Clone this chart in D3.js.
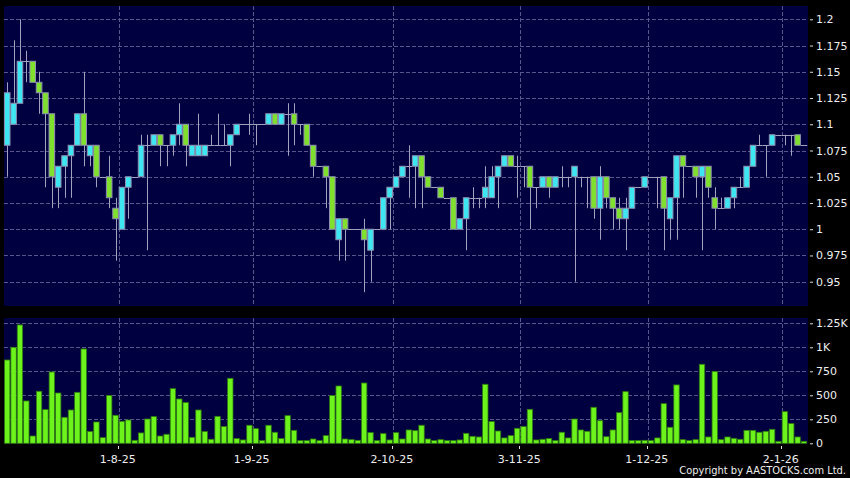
<!DOCTYPE html>
<html>
<head>
<meta charset="utf-8">
<script src="https://cdn.jsdelivr.net/npm/d3@7"></script>
<style>
  html, body { margin: 0; padding: 0; background: #000; }
  svg { display: block; }
  text { font-family: "DejaVu Sans", Verdana, sans-serif; }
  .narrow { font-family: "DejaVu Sans Condensed", "DejaVu Sans", sans-serif; font-stretch: condensed; }
</style>
</head>
<body>
<div id="chart"></div>
<script>
// Daily OHLC, one entry per trading day (8 Jul 2025 .. 7 Jan 2026)
const opens = [1.08,1.10,1.12,1.16,1.16,1.14,1.13,1.11,1.04,1.06,1.07,1.08,1.11,1.07,1.08,1.05,1.05,1.02,1.00,1.04,
  1.05,1.05,1.08,1.08,1.09,1.08,1.08,1.09,1.10,1.07,1.07,1.07,1.08,1.08,1.08,1.08,1.09,1.10,1.10,1.10,
  1.10,1.10,1.11,1.10,1.11,1.11,1.10,1.10,1.08,1.06,1.06,1.05,0.99,1.01,1.00,1.00,1.00,0.98,1.00,1.00,
  1.03,1.04,1.05,1.06,1.06,1.07,1.05,1.04,1.04,1.03,1.03,1.00,1.01,1.03,1.03,1.03,1.03,1.05,1.06,1.07,
  1.06,1.06,1.06,1.04,1.04,1.05,1.04,1.05,1.05,1.05,1.05,1.05,1.05,1.02,1.05,1.03,1.02,1.01,1.02,1.04,
  1.04,1.05,1.05,1.05,1.01,1.03,1.07,1.06,1.06,1.05,1.06,1.03,1.02,1.02,1.03,1.04,1.04,1.06,1.08,1.08,
  1.08,1.09,1.09,1.09,1.09,1.08];
const highs = [1.14,1.18,1.20,1.17,1.16,1.15,1.13,1.11,1.06,1.07,1.08,1.11,1.15,1.08,1.08,1.05,1.07,1.03,1.04,1.05,
  1.05,1.09,1.09,1.09,1.09,1.08,1.09,1.12,1.10,1.08,1.11,1.08,1.09,1.11,1.10,1.09,1.10,1.10,1.11,1.10,
  1.10,1.11,1.11,1.11,1.12,1.12,1.10,1.10,1.08,1.06,1.06,1.05,1.01,1.01,1.00,1.00,1.01,1.00,1.00,1.03,
  1.04,1.05,1.06,1.08,1.07,1.07,1.05,1.04,1.04,1.03,1.03,1.01,1.03,1.04,1.03,1.06,1.06,1.06,1.07,1.07,
  1.07,1.06,1.06,1.04,1.05,1.05,1.05,1.06,1.05,1.06,1.05,1.05,1.05,1.06,1.05,1.03,1.03,1.03,1.04,1.04,
  1.05,1.05,1.05,1.05,1.03,1.07,1.07,1.06,1.06,1.06,1.06,1.04,1.03,1.03,1.04,1.05,1.06,1.08,1.09,1.08,
  1.09,1.09,1.09,1.09,1.09,1.08];
const lows = [1.05,1.10,1.12,1.14,1.14,1.11,1.04,1.02,1.02,1.03,1.03,1.08,1.06,1.06,1.04,1.05,1.02,0.97,1.00,1.01,
  1.05,1.05,0.98,1.08,1.06,1.06,1.07,1.08,1.06,1.07,1.07,1.07,1.08,1.08,1.08,1.06,1.09,1.10,1.09,1.08,
  1.10,1.10,1.10,1.10,1.07,1.08,1.09,1.08,1.05,1.06,1.02,1.00,0.97,0.97,1.00,1.00,0.94,0.95,1.00,1.00,
  1.00,1.04,1.05,1.03,1.02,1.02,1.04,1.04,1.03,1.03,1.00,1.00,0.98,1.02,1.02,1.02,1.03,1.02,1.06,1.06,
  1.03,1.04,1.00,1.02,1.04,1.03,1.04,1.04,1.04,0.95,1.04,1.02,1.01,0.99,1.02,1.00,1.00,0.98,1.02,1.04,
  1.04,1.05,1.02,0.98,0.99,0.99,1.03,1.06,1.03,0.98,1.03,1.00,1.02,1.02,1.02,1.04,1.04,1.06,1.08,1.05,
  1.08,1.09,1.08,1.07,1.08,1.08];
const closes = [1.13,1.12,1.16,1.16,1.14,1.13,1.11,1.05,1.06,1.07,1.08,1.11,1.08,1.08,1.05,1.05,1.03,1.01,1.04,1.05,
  1.05,1.08,1.08,1.09,1.08,1.08,1.09,1.10,1.08,1.08,1.08,1.08,1.08,1.08,1.08,1.09,1.10,1.10,1.10,1.10,
  1.10,1.11,1.10,1.11,1.11,1.10,1.10,1.08,1.06,1.06,1.05,1.00,1.01,1.00,1.00,1.00,0.99,1.00,1.00,1.03,
  1.04,1.05,1.06,1.06,1.07,1.05,1.04,1.04,1.03,1.03,1.00,1.01,1.03,1.03,1.03,1.04,1.05,1.06,1.07,1.06,
  1.06,1.06,1.04,1.04,1.05,1.04,1.05,1.05,1.05,1.06,1.05,1.05,1.02,1.05,1.03,1.02,1.01,1.02,1.04,1.04,
  1.05,1.05,1.05,1.02,1.03,1.07,1.06,1.06,1.05,1.06,1.04,1.02,1.02,1.03,1.04,1.04,1.06,1.08,1.08,1.08,
  1.09,1.09,1.09,1.09,1.08,1.08];
// Daily volume (thousand shares)
const volumes = [868,1000,1233,441,76,542,351,743,524,271,347,531,983,122,222,59,497,292,229,243,
  31,108,253,278,76,94,569,462,424,62,347,122,42,281,174,677,49,35,188,153,
  28,188,115,49,288,135,28,28,45,28,80,497,597,45,38,31,628,111,28,101,
  35,111,45,139,132,188,45,28,38,28,28,35,104,73,66,615,226,128,56,80,
  156,174,354,35,42,49,28,115,56,253,139,125,375,236,69,139,319,538,28,28,
  31,28,56,413,167,608,38,28,38,823,66,747,38,66,52,42,135,135,115,125,
  146,21,330,205,66,21];

// Axis ticks
const monthStarts = [18, 39, 61, 81, 101, 122];   // index of first trading day of each month
const monthLabels = ["1-8-25", "1-9-25", "2-10-25", "3-11-25", "1-12-25", "2-1-26"];
const priceTicks = [0.95, 0.975, 1, 1.025, 1.05, 1.075, 1.1, 1.125, 1.15, 1.175, 1.2];
const volTicks = [0, 250, 500, 750, 1000, 1250];
const volTickLabels = ["0", "250", "500", "750", "1K", "1.25K"];

const width = 850, height = 478;
const plotLeft = 4, plotRight = 808;
const priceTop = 6, priceBottom = 306;
const volTop = 318, volBottom = 443.5;

const bg = "#000040";
const gridColor = "#56568c";
const upColor = "#3ee6f2";
const downColor = "#7fe12e";
const edgeColor = "#8e8eb0";
const wickColor = "#a2a2c0";

const candles = opens.map((o, i) => ({ i, o, h: highs[i], l: lows[i], c: closes[i], v: volumes[i] }));

const svg = d3.select("#chart").append("svg")
  .attr("width", width)
  .attr("height", height);

svg.append("rect").attr("width", width).attr("height", height).attr("fill", "#000");

const x = d3.scaleLinear().domain([0, opens.length - 1]).range([7.2, 804]);
const yPrice = d3.scaleLinear().domain([0.95, 1.2]).range([281.7, 19.3]);
const yVol = d3.scaleLinear().domain([0, 1250]).range([443.3, 323.3]);

// Panels
svg.append("rect")
  .attr("x", plotLeft).attr("y", priceTop)
  .attr("width", plotRight - plotLeft).attr("height", priceBottom - priceTop)
  .attr("fill", bg);
svg.append("rect")
  .attr("x", plotLeft).attr("y", volTop)
  .attr("width", plotRight - plotLeft).attr("height", volBottom - volTop)
  .attr("fill", bg);

// Grid
const grid = svg.append("g")
  .attr("stroke", gridColor)
  .attr("stroke-width", 1)
  .attr("stroke-dasharray", "4,2")
  .attr("shape-rendering", "crispEdges");

grid.selectAll(".hp").data(priceTicks).join("line")
  .attr("x1", plotLeft).attr("x2", plotRight)
  .attr("y1", d => Math.round(yPrice(d)) + 0.5).attr("y2", d => Math.round(yPrice(d)) + 0.5);

grid.selectAll(".hv").data(volTicks.slice(1)).join("line")
  .attr("x1", plotLeft).attr("x2", plotRight)
  .attr("y1", d => Math.round(yVol(d)) + 0.5).attr("y2", d => Math.round(yVol(d)) + 0.5);

monthStarts.forEach(m => {
  const gx = Math.round(x(m - 0.5)) + 0.5;
  grid.append("line").attr("x1", gx).attr("x2", gx).attr("y1", priceTop).attr("y2", priceBottom);
  grid.append("line").attr("x1", gx).attr("x2", gx).attr("y1", volTop).attr("y2", volBottom);
});

// Candles
const half = 2.8, slot = (x(1) - x(0)) / 2;
const candleG = svg.append("g");

candleG.selectAll(".wick").data(candles.filter(d => d.h > d.l)).join("line")
  .attr("x1", d => Math.round(x(d.i)) + 0.5).attr("x2", d => Math.round(x(d.i)) + 0.5)
  .attr("y1", d => yPrice(d.h)).attr("y2", d => yPrice(d.l))
  .attr("stroke", wickColor).attr("stroke-width", 1);

candleG.selectAll(".doji").data(candles.filter(d => d.o === d.c)).join("line")
  .attr("x1", d => x(d.i) - slot).attr("x2", d => x(d.i) + slot)
  .attr("y1", d => Math.round(yPrice(d.c)) + 0.5).attr("y2", d => Math.round(yPrice(d.c)) + 0.5)
  .attr("stroke", wickColor).attr("stroke-width", 1);

candleG.selectAll(".body").data(candles.filter(d => d.o !== d.c)).join("rect")
  .attr("x", d => x(d.i) - half)
  .attr("y", d => yPrice(Math.max(d.o, d.c)))
  .attr("width", half * 2)
  .attr("height", d => Math.abs(yPrice(d.o) - yPrice(d.c)))
  .attr("fill", d => d.c > d.o ? upColor : downColor)
  .attr("stroke", edgeColor)
  .attr("stroke-width", 1);

// Volume bars
svg.append("g").selectAll("rect").data(candles).join("rect")
  .attr("x", d => x(d.i) - 2.7)
  .attr("y", d => yVol(d.v))
  .attr("width", 5.4)
  .attr("height", d => yVol(0) - yVol(d.v))
  .attr("fill", "#6cf31c")
  .attr("stroke", "#2f7a12")
  .attr("stroke-width", 0.8);

// Right axes
const priceAxis = d3.axisRight(yPrice)
  .tickValues(priceTicks)
  .tickFormat(d => String(+d.toFixed(3)))
  .tickSize(3)
  .tickPadding(3);
const volAxis = d3.axisRight(yVol)
  .tickValues(volTicks)
  .tickFormat((d, k) => volTickLabels[k])
  .tickSize(3)
  .tickPadding(3);

[priceAxis, volAxis].forEach(ax => {
  const g = svg.append("g")
    .attr("transform", `translate(${plotRight + 2},0)`)
    .call(ax);
  g.select(".domain").remove();
  g.selectAll(".tick line").attr("stroke", "#ddd");
  g.selectAll(".tick text")
    .attr("fill", "#eee")
    .style("font-size", "11px")
    .style("font-family", "'DejaVu Sans', Verdana, sans-serif");
});

// Date axis
const dateX = d => x(d - 0.5) - 1;
const dateG = svg.append("g").attr("transform", "translate(0,445)");
dateG.selectAll("line").data(monthStarts).join("line")
  .attr("x1", d => Math.round(dateX(d)) + 0.5)
  .attr("x2", d => Math.round(dateX(d)) + 0.5)
  .attr("y1", 1).attr("y2", 4)
  .attr("stroke", "#ddd");
dateG.selectAll("text").data(monthStarts).join("text")
  .attr("x", dateX)
  .attr("y", 17.5)
  .attr("text-anchor", "middle")
  .attr("fill", "#eee")
  .style("font-size", "11px")
  .text((d, k) => monthLabels[k]);

svg.append("text")
  .attr("class", "narrow")
  .attr("x", 846).attr("y", 474)
  .attr("text-anchor", "end")
  .attr("fill", "#eee")
  .style("font-size", "11px")
  .text("Copyright by AASTOCKS.com Ltd.");
</script>
</body>
</html>
